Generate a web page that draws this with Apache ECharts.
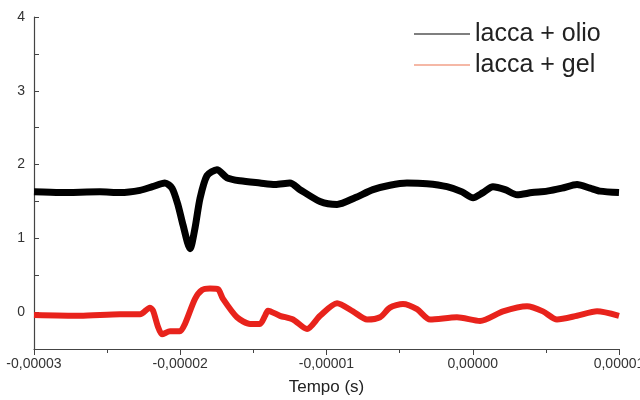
<!DOCTYPE html>
<html>
<head>
<meta charset="utf-8">
<script src="https://cdn.jsdelivr.net/npm/echarts@6/dist/echarts.min.js"></script>
<style>
  html, body { margin: 0; padding: 0; background: #fff; }
  #main { width: 640px; height: 400px; }
</style>
</head>
<body>
<div id="main"></div>
<script>
// tempo in microsecondi
const olioTime = [-30, -28.2, -25.5, -24.1, -22.75, -21.9, -21.05, -20.56, -20.15, -19.81, -19.33, -18.99, -18.65, -18.17, -17.49, -16.8, -15.91, -14.55, -13.52, -12.5, -11.81, -10.44, -9.28, -8.05, -6.82, -5.66, -4.5, -3.13, -1.76, -0.73, 0.02, 0.7, 1.38, 2.21, 3.03, 4.05, 5.08, 6.1, 7.13, 8.02, 8.7, 10]
const olioValues = [1.63, 1.62, 1.63, 1.62, 1.65, 1.70, 1.75, 1.68, 1.45, 1.18, 0.86, 1.14, 1.54, 1.85, 1.93, 1.82, 1.78, 1.75, 1.73, 1.75, 1.66, 1.50, 1.46, 1.55, 1.66, 1.72, 1.75, 1.74, 1.70, 1.63, 1.55, 1.62, 1.70, 1.66, 1.59, 1.62, 1.64, 1.68, 1.73, 1.68, 1.64, 1.62]

const gelTime = [-30, -26.85, -24.12, -22.75, -22.07, -21.86, -21.52, -21.25, -20.7, -20.02, -19.68, -18.99, -18.51, -17.97, -17.42, -17.08, -16.12, -15.23, -14.55, -14.2, -14.0, -13.18, -12.29, -11.33, -10.44, -9.28, -8.19, -7.23, -6.34, -5.66, -4.77, -3.81, -2.92, -1.08, 0.5, 2.07, 3.71, 4.8, 5.76, 7.13, 8.5, 10]
const gelValues = [-0.04, -0.05, -0.03, -0.03, 0.06, 0.02, -0.20, -0.30, -0.26, -0.26, -0.16, 0.18, 0.30, 0.32, 0.31, 0.18, -0.07, -0.16, -0.16, -0.05, 0.02, -0.05, -0.10, -0.23, -0.05, 0.12, 0.01, -0.10, -0.07, 0.06, 0.11, 0.04, -0.10, -0.07, -0.12, 0.01, 0.08, 0.01, -0.10, -0.05, 0.01, -0.05]

const xTicks = [-30, -20, -10, 0, 10]
const yTicks = [0, 1, 2, 3, 4]

const font = '"Liberation Sans", Arial, sans-serif'

let myChart = echarts.init(document.getElementById('main'))

let options = {
    backgroundColor: '#fff',
    animation: false,
    // niente ridimensionamento automatico: l'etichetta 0,00001 esce dal bordo come nell'originale
    grid: { left: 34, right: 21, top: 17, bottom: 51, outerBoundsMode: 'none' },
    legend: {
        orient: 'vertical',
        left: 409,
        top: 16,
        itemWidth: 56,
        itemHeight: 1.5,
        itemGap: 5,
        icon: 'rect',
        textStyle: { fontFamily: font, fontSize: 25, color: '#222', lineHeight: 26 },
        data: [
            { name: 'lacca + olio', itemStyle: { color: '#555' } },
            { name: 'lacca + gel', itemStyle: { color: '#f2a088' } }
        ]
    },
    xAxis: {
        type: 'value',
        min: -30,
        max: 10,
        interval: 10,
        name: 'Tempo (s)',
        nameLocation: 'middle',
        nameGap: 30,
        nameTextStyle: { fontFamily: font, fontSize: 17, color: '#222' },
        axisLine: { onZero: false, lineStyle: { color: '#444', width: 1.2 } },
        axisTick: { length: 6, lineStyle: { color: '#444' } },
        minorTick: { show: true, splitNumber: 2, length: 4, lineStyle: { color: '#444' } },
        splitLine: { show: false },
        axisLabel: {
            fontFamily: font, fontSize: 14, color: '#333', margin: 8,
            formatter: v => xTicks.includes(Math.round(v)) ? (Math.round(v) * 1e-6).toFixed(5).replace('.', ',') : ''
        }
    },
    yAxis: {
        type: 'value',
        min: -0.5,
        max: 4,
        interval: 0.5,
        axisLine: { show: true, onZero: false, lineStyle: { color: '#444', width: 1.2 } },
        axisTick: { show: true, inside: true, length: 5, lineStyle: { color: '#444' } },
        splitLine: { show: false },
        axisLabel: {
            fontFamily: font, fontSize: 14, color: '#333', margin: 9,
            formatter: v => yTicks.includes(v) ? String(v) : ''
        }
    },
    series: [
        {
            name: 'lacca + olio',
            type: 'line',
            showSymbol: false,
            smooth: 0.25,
            lineStyle: { color: '#000', width: 7 },
            itemStyle: { color: '#000' },
            data: olioTime.map((t, i) => [t, olioValues[i]])
        },
        {
            name: 'lacca + gel',
            type: 'line',
            showSymbol: false,
            smooth: 0.25,
            lineStyle: { color: '#e8231c', width: 6 },
            itemStyle: { color: '#e8231c' },
            data: gelTime.map((t, i) => [t, gelValues[i]])
        }
    ]
}

myChart.setOption(options)
</script>
</body>
</html>
